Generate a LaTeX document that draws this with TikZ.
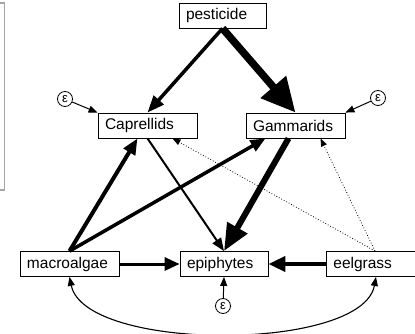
\documentclass[tikz,border=0pt]{standalone}
\usepackage{fontspec}
\setmainfont{Liberation Sans}
\usetikzlibrary{arrows.meta}
\begin{document}
\begin{tikzpicture}[x=1pt,y=-1pt,
  box/.style={draw=black,line width=0.8pt,minimum height=25pt,inner xsep=7pt,inner ysep=0pt,
    align=left,font=\fontsize{15.5}{17}\selectfont},
  errc/.style={draw=black,line width=0.8pt,circle,minimum size=15pt,inner sep=0pt,
    font=\fontsize{13}{14}\selectfont},
  tip/.style 2 args={-{Triangle[length=#1pt,width=#2pt]}},
]
\useasboundingbox (0,0) rectangle (415,334);
\begin{scope}
\clip (0,0) rectangle (415,334);
% gray frame at left
\draw[gray!70,line width=1.2pt] (-20,3) -- (4.5,3) -- (4.5,190) -- (-20,190);
% nodes
\node[box,text width=73pt] (pest) at (222.5,15.5) {pesticide};
\node[box,text width=85pt] (cap) at (147.5,125.5) {Caprellids};
\node[box,text width=85pt] (gam) at (295.5,125.5) {Gammarids};
\node[box,text width=85pt] (mac) at (69.5,264) {macroalgae};
\node[box,text width=74pt] (epi) at (224,264) {epiphytes};
\node[box,text width=100pt,anchor=west] (eel) at (326,264) {eelgrass};
\coordinate (eeln) at (375,251);
\coordinate (eels) at (376,277);
\node[errc] (e1) at (65,99) {ε};
\node[errc] (e2) at (378,98) {ε};
\node[errc] (e3) at (223,306) {ε};
% arrows
\draw[line width=7.5pt,tip={34}{32}] (pest.south) -- (gam.north);
\draw[line width=3.5pt,tip={17}{13}] (pest.south) -- (cap.north);
\draw[line width=4pt,tip={16}{13}] (mac.north) -- ([xshift=-10pt]cap.south);
\draw[line width=3.5pt,tip={15}{12}] (mac.north) -- ([xshift=-30pt]gam.south);
\draw[line width=2pt,tip={13}{10}] (cap.south) -- (epi.north);
\draw[line width=6pt,tip={27}{22}] ([xshift=-7pt]gam.south) -- (epi.north);
\draw[line width=3pt,tip={15}{13}] (mac.east) -- (epi.west);
\draw[line width=4pt,tip={17}{15}] (eel.west) -- (epi.east);
\draw[line width=0.8pt,dotted,tip={8}{6}] (eeln) -- ([xshift=25pt]cap.south);
\draw[line width=0.8pt,dotted,tip={8}{6}] (eeln) -- ([xshift=25pt]gam.south);
\draw[line width=1pt,tip={9}{7}] (e1) -- (cap.north west);
\draw[line width=1pt,tip={9}{7}] (e2) -- (gam.north east);
\draw[line width=1pt,tip={9}{7}] (e3) -- (epi.south);
\draw[line width=1.1pt,{Triangle[length=9pt,width=7pt]}-{Triangle[length=9pt,width=7pt]}]
  (mac.south) .. controls (85,352) and (362,352) .. (eels);
\end{scope}
\end{tikzpicture}
\end{document}
